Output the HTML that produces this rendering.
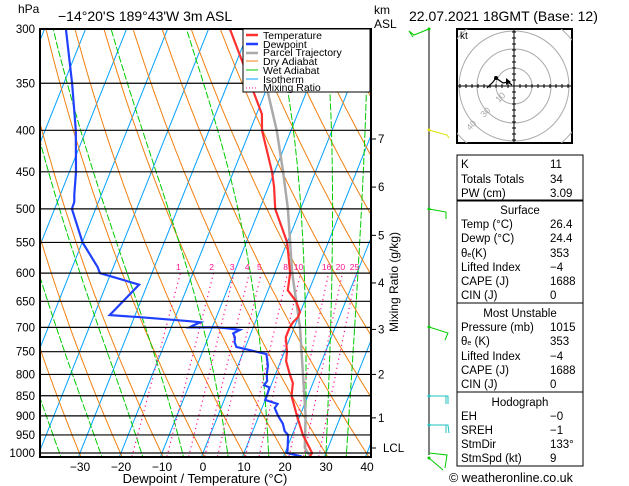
<!DOCTYPE html>
<html><head><meta charset="utf-8"><style>
body{margin:0;background:#fff;}
svg{display:block;font-family:"Liberation Sans","DejaVu Sans",sans-serif;}
</style></head><body>
<svg id="s" width="629" height="486" viewBox="0 0 629 486" xmlns="http://www.w3.org/2000/svg">
<defs><clipPath id="pc"><rect x="40" y="29" width="331" height="428"/></clipPath></defs>
<rect width="629" height="486" fill="#fff"/>
<g id="bg" clip-path="url(#pc)"></g>
<g id="prof" clip-path="url(#pc)"></g>
<g id="ax"></g>
<!-- legend -->
<g font-size="10.5">
<rect x="243" y="29" width="127" height="63" fill="#fff" stroke="#000" stroke-width="1"/>
<g><line x1="246" y1="35" x2="258" y2="35" stroke="#ff3030" stroke-width="2.5"/><text x="263" y="39">Temperature</text></g>
<g><line x1="246" y1="44" x2="258" y2="44" stroke="#2040ff" stroke-width="2.5"/><text x="263" y="48">Dewpoint</text></g>
<g><line x1="246" y1="53" x2="258" y2="53" stroke="#aaa" stroke-width="2.5"/><text x="263" y="56">Parcel Trajectory</text></g>
<g><line x1="246" y1="61" x2="258" y2="61" stroke="#f08010" stroke-width="1"/><text x="263" y="65">Dry Adiabat</text></g>
<g><line x1="246" y1="70" x2="258" y2="70" stroke="#00cc00" stroke-width="1"/><text x="263" y="74">Wet Adiabat</text></g>
<g><line x1="246" y1="79" x2="258" y2="79" stroke="#00a0ff" stroke-width="1"/><text x="263" y="83">Isotherm</text></g>
<g><line x1="246" y1="88" x2="258" y2="88" stroke="#ff1090" stroke-width="1" stroke-dasharray="1,2"/><text x="263" y="91">Mixing Ratio</text></g>
</g>
<text x="18" y="13" font-size="12">hPa</text>
<text x="58" y="21" font-size="14">−14°20'S  189°43'W  3m  ASL</text>
<text x="374" y="14" font-size="12">km</text>
<text x="374" y="28" font-size="12">ASL</text>
<text x="409" y="21" font-size="14">22.07.2021  18GMT  (Base: 12)</text>
<text x="398" y="282" font-size="12" transform="rotate(-90 398 282)" text-anchor="middle">Mixing Ratio (g/kg)</text>
<text x="205" y="483" font-size="13" text-anchor="middle">Dewpoint / Temperature (°C)</text>
<!-- wind barbs -->
<g fill="none" stroke-width="1">
<line x1="429" y1="29" x2="429" y2="455" stroke="#000"/>
<polyline points="429,29 414,35 409,31 413,37" stroke="#00cc00"/>
<polyline points="429,130 447,135 449,138" stroke="#e0e000"/>
<polyline points="429,209 446,212 446,219" stroke="#00cc00"/>
<polyline points="429,327 448,333 445,340" stroke="#00cc00"/>
<polyline points="429,396 448,396 448,404 M446,396" stroke="#20c0c0"/>
<line x1="446" y1="396" x2="446" y2="404" stroke="#20c0c0"/>
<polyline points="429,425 448,425 449,433" stroke="#20c0c0"/><line x1="446" y1="425" x2="446" y2="433" stroke="#20c0c0"/>
<polyline points="429,453 447,455 445,468" stroke="#00cc00"/><line x1="429" y1="458" x2="443" y2="470" stroke="#00cc00"/>
<circle cx="429" cy="29" r="1.5" fill="#00cc00" stroke="none"/>
<circle cx="429" cy="130" r="1.5" fill="#e0e000" stroke="none"/>
<circle cx="429" cy="209" r="1.5" fill="#00cc00" stroke="none"/>
<circle cx="429" cy="327" r="1.5" fill="#00cc00" stroke="none"/>
<circle cx="429" cy="396" r="1.5" fill="#20c0c0" stroke="none"/>
<circle cx="429" cy="425" r="1.5" fill="#20c0c0" stroke="none"/>
<circle cx="429" cy="458" r="1.5" fill="#00cc00" stroke="none"/>
</g>
<!-- hodograph -->
<g>
<rect x="457" y="29" width="115" height="114" fill="#fff" stroke="#000" stroke-width="2"/>
<g clip-path="url(#hc)" fill="none" stroke="#aaa">
<clipPath id="hc"><rect x="457" y="29" width="115" height="114"/></clipPath>
<circle cx="514" cy="86" r="18"/><circle cx="514" cy="86" r="37"/><circle cx="514" cy="86" r="55"/><circle cx="514" cy="86" r="74"/>
</g>
<text x="460" y="39" font-size="10">kt</text>
<text x="499" y="103" font-size="9" fill="#aaa" transform="rotate(-45 499 103)">10</text>
<text x="484" y="118" font-size="9" fill="#aaa" transform="rotate(-45 484 118)">30</text>
<text x="470" y="131" font-size="9" fill="#aaa" transform="rotate(-45 470 131)">40</text>
<line x1="457" y1="86" x2="572" y2="86" stroke="#000"/><line x1="514" y1="29" x2="514" y2="143" stroke="#000"/>
<g id="hticks" stroke="#000"></g>
<polyline points="487,88 493,82 496,78 503,83 508,82 512,85" fill="none" stroke="#000" stroke-width="1.2"/>
<circle cx="496" cy="78" r="2" fill="#000"/><path d="M506,78 L511,82 L506,85 Z" fill="#000"/>
</g>
<!-- tables -->
<g font-size="11.5">
<rect x="457" y="155" width="126" height="45" fill="none" stroke="#000"/>
<text x="461" y="168">K</text><text x="550" y="168">11</text>
<text x="461" y="183">Totals Totals</text><text x="550" y="183">34</text>
<text x="461" y="197">PW (cm)</text><text x="550" y="197">3.09</text>
<rect x="457" y="201" width="126" height="102" fill="none" stroke="#000"/>
<text x="520" y="214" text-anchor="middle">Surface</text>
<text x="461" y="228">Temp (°C)</text><text x="550" y="228">26.4</text>
<text x="461" y="242">Dewp (°C)</text><text x="550" y="242">24.4</text>
<text x="461" y="257">θ<tspan font-size="7">e</tspan>(K)</text><text x="550" y="257">353</text>
<text x="461" y="271">Lifted Index</text><text x="550" y="271">−4</text>
<text x="461" y="285">CAPE (J)</text><text x="550" y="285">1688</text>
<text x="461" y="299">CIN (J)</text><text x="550" y="299">0</text>
<rect x="457" y="303" width="126" height="89" fill="none" stroke="#000"/>
<text x="520" y="317" text-anchor="middle">Most Unstable</text>
<text x="461" y="331">Pressure (mb)</text><text x="550" y="331">1015</text>
<text x="461" y="345">θ<tspan font-size="7">e</tspan> (K)</text><text x="550" y="345">353</text>
<text x="461" y="360">Lifted Index</text><text x="550" y="360">−4</text>
<text x="461" y="374">CAPE (J)</text><text x="550" y="374">1688</text>
<text x="461" y="388">CIN (J)</text><text x="550" y="388">0</text>
<rect x="457" y="392" width="126" height="74" fill="none" stroke="#000"/>
<text x="520" y="406" text-anchor="middle">Hodograph</text>
<text x="461" y="420">EH</text><text x="550" y="420">−0</text>
<text x="461" y="434">SREH</text><text x="550" y="434">−1</text>
<text x="461" y="448">StmDir</text><text x="550" y="448">133°</text>
<text x="461" y="462">StmSpd (kt)</text><text x="550" y="462">9</text>
</g>
<text x="449" y="482" font-size="12.5">© weatheronline.co.uk</text>
</svg>
<script>
// ---- data ----
const tempP=[1010,1000,950,900,850,820,800,770,750,720,700,690,680,670,650,630,600,550,500,470,450,400,382,363,330,300];
const tempT=[26.4,26.6,22.6,19.3,16.0,15.1,13.5,11.3,10.6,8.9,8.9,9.2,9.9,9.9,7.9,4.8,3.7,0.0,-6.2,-8.6,-10.6,-17.1,-18.7,-22.1,-28.4,-34.8];
const dewP=[1010,1000,990,950,940,920,900,880,870,860,850,830,825,815,800,780,755,750,740,730,720,712,705,702,700,700,697,690,688,685,680,676,620,600,590,550,500,490,480,450,400,350,300];
const dewT=[24.4,20.5,20.3,19.0,17.8,16.6,14.7,13.1,13.4,10.0,10.0,9.8,8.3,8.6,7.9,7.3,5.8,3.1,-2.2,-3.1,-3.5,-4.3,-3.0,-6.0,-8.6,-15.5,-15.0,-13.4,-15.8,-20.4,-28.6,-36.2,-32.0,-42.7,-43.8,-49.9,-55.8,-55.9,-56.6,-58.4,-62.5,-68.0,-74.8];
const parcelP=[1010,1000,985,900,700,600,500,450,400,359,330,300];
const parcelT=[26.6,25.6,24.3,21.4,11.4,4.2,-3.1,-7.9,-13.5,-19.4,-25,-31];
const pressureTicks=[300,350,400,450,500,550,600,650,700,750,800,850,900,950,1000];
const tempTicks=[-30,-20,-10,0,10,20,30,40];
const kmLabels=["1","2","3","4","5","6","7"];
const kmPressures=[905,800,704,617,539,470,410];
const mixRatios=[1,2,3,4,5,8,10,16,20,25];
const mixLabels=["1","2","3","4","5","8","10","16","20","25"];
const dryThetas=[];for(let t=203;t<=523;t+=10)dryThetas.push(t);
const wetThetas=[-35,-25,-15,-5,6,16,25,30,35];
const isoTemps=[];for(let t=-120;t<=40;t+=10)isoTemps.push(t);
// ---- axes ----
const NS='http://www.w3.org/2000/svg';
function yOf(p){return 29+Math.log(p/300)/Math.log(1000/300)*424;}
function xOf(T,p){return 203+4.1*T+0.4*(453-yOf(p));}
function mk(tag,attrs,parent){const e=document.createElementNS(NS,tag);for(const k in attrs)e.setAttribute(k,attrs[k]);parent.appendChild(e);return e;}
const bg=document.getElementById('bg'),prof=document.getElementById('prof'),ax=document.getElementById('ax');
function pathFrom(ps,ts){return ps.map((p,i)=>(i?'L':'M')+xOf(ts[i],p).toFixed(1)+','+yOf(p).toFixed(1)).join(' ');}
const pr=[];for(let p=1050;p>=290;p-=5)pr.push(p);
// isotherms
isoTemps.forEach(t=>{const e=mk('path',{d:pathFrom([1050,280],[t,t]),stroke:'#00a0ff','stroke-width':1,fill:'none'},bg);

});
// dry adiabats
dryThetas.forEach(th=>{const ts=pr.map(p=>th*Math.pow(p/1000,0.286)-273.15);const e=mk('path',{d:pathFrom(pr,ts),stroke:'#f08010','stroke-width':1,fill:'none'},bg);

});
// wet adiabats
function es(T){return 6.112*Math.exp(17.67*T/(T+243.5));}
function wetLine(tw){const Rd=287,cp=1004,L=2.5e6,eps=0.622;const out={};let T=tw+273.15;out[1000]=T;
 function grad(p,T){const rs=eps*es(T-273.15)/(p-es(T-273.15));return (Rd*T+L*rs)/(p*(cp+L*L*rs*eps/(Rd*T*T)));}
 let t=T;for(let p=1000;p<1050;p+=5){t+=grad(p,t)*5;out[p+5]=t;}
 t=T;for(let p=1000;p>290;p-=5){t-=grad(p,t)*5;out[p-5]=t;}
 return pr.map(p=>out[p]-273.15);}
wetThetas.forEach(tw=>{const e=mk('path',{d:pathFrom(pr,wetLine(tw)),stroke:'#00cc00','stroke-width':1,fill:'none','stroke-dasharray':'7,2'},bg);

});
// mixing ratio lines
function tdOf(w,p){const e=w*p/(622+w);const l=Math.log(e/6.112);return 243.5*l/(17.67-l);}
mixRatios.forEach((w,i)=>{const ps=[1050,600];const ts=ps.map(p=>tdOf(w,p));
const e=mk('path',{d:pathFrom(ps,ts),stroke:'#ff1090','stroke-width':1.2,fill:'none','stroke-dasharray':'1.2,3.5'},bg);


const t=mk('text',{x:xOf(ts[1],600)-2,y:yOf(600)-3,'font-size':8.5,fill:'#ff1090','text-anchor':'middle'},ax);t.textContent=mixLabels[i];

});
// isobars
pressureTicks.forEach(p=>{const y=yOf(p);const l=mk('line',{x1:40,x2:371,y1:y,y2:y,stroke:'#000','stroke-width':1.2},ax);


const t=mk('text',{x:35,y:y+4,'font-size':11.5,'text-anchor':'end'},ax);t.textContent=p;

});
// profiles
const par=mk('path',{d:pathFrom(parcelP,parcelT),stroke:'#aaa','stroke-width':2.5,fill:'none'},prof);


const tl=mk('path',{d:pathFrom(tempP,tempT),stroke:'#ff3030','stroke-width':2.2,fill:'none'},prof);


const dl=mk('path',{d:pathFrom(dewP,dewT),stroke:'#2040ff','stroke-width':2.2,fill:'none'},prof);


// frame
const fr=mk('rect',{x:40,y:29,width:331,height:428,fill:'none',stroke:'#000','stroke-width':2},ax);


// x ticks
tempTicks.forEach(t=>{const x=203+4.1*t;const e=mk('text',{x:x,y:471,'font-size':12,'text-anchor':'middle'},ax);e.textContent=(t<0?'−':'')+Math.abs(t);

});
// km ticks
kmPressures.forEach((p,i)=>{const y=yOf(p);mk('line',{x1:371,x2:376,y1:y,y2:y,stroke:'#000'},ax);
const e=mk('text',{x:378,y:y+4,'font-size':11.5},ax);e.textContent=kmLabels[i];

});
mk('line',{x1:371,x2:376,y1:448,y2:448,stroke:'#000'},ax);
const lcl=mk('text',{x:383,y:452,'font-size':11.5},ax);lcl.textContent='LCL';


// hodograph ticks
const ht=document.getElementById('hticks');
for(let d=-54;d<=54;d+=6){if(d===0)continue;mk('line',{x1:514+d,x2:514+d,y1:84,y2:88},ht);mk('line',{x1:512,x2:516,y1:86+d,y2:86+d},ht);}
</script>
</body></html>
